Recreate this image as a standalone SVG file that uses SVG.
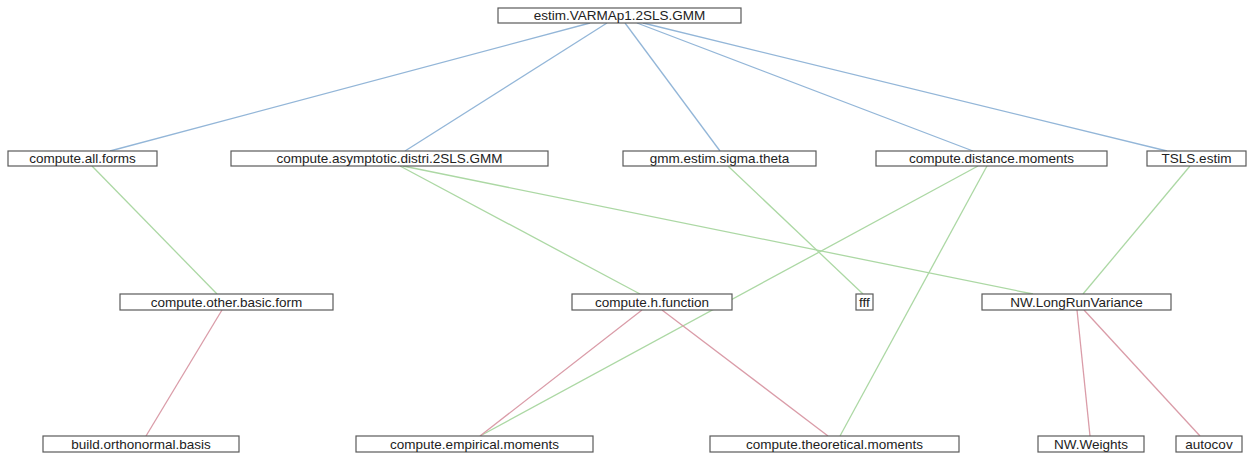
<svg xmlns="http://www.w3.org/2000/svg" width="1247" height="455" viewBox="0 0 1247 455">
<style>
.n rect{fill:#fff;stroke:#5a5a5a;stroke-width:1.2}
.n text{font-family:"Liberation Sans",Arial,sans-serif;font-size:13.5px;fill:#222;text-anchor:middle}
.b{stroke:#93b6d8;stroke-width:1.3;fill:none}
.g{stroke:#acd8a4;stroke-width:1.3;fill:none}
.r{stroke:#da9ca8;stroke-width:1.3;fill:none}
</style>
<rect width="1247" height="455" fill="#fff"/>
<g id="connectors">
<line class="b" x1="590" y1="23" x2="110" y2="151"/>
<line class="b" x1="607" y1="23" x2="405" y2="151"/>
<line class="b" x1="625" y1="23" x2="720" y2="151"/>
<line class="b" x1="637" y1="23" x2="973" y2="151"/>
<line class="b" x1="643" y1="23" x2="1167" y2="151"/>
<line class="g" x1="92" y1="166" x2="217" y2="294"/>
<line class="g" x1="400" y1="166" x2="640" y2="294"/>
<line class="g" x1="403" y1="166" x2="1033" y2="294"/>
<line class="g" x1="728" y1="166" x2="863" y2="294"/>
<line class="g" x1="978" y1="166" x2="480" y2="436"/>
<line class="g" x1="987" y1="166" x2="840" y2="436"/>
<line class="g" x1="1190" y1="166" x2="1083" y2="294"/>
<line class="r" x1="222" y1="310" x2="146" y2="436"/>
<line class="r" x1="642" y1="310" x2="480" y2="436"/>
<line class="r" x1="662" y1="310" x2="828" y2="436"/>
<line class="r" x1="1077" y1="310" x2="1090" y2="436"/>
<line class="r" x1="1084" y1="310" x2="1200" y2="436"/>
</g>
<g id="n1" class="n"><rect x="498" y="8" width="243" height="15"/><text x="619.5" y="20">estim.VARMAp1.2SLS.GMM</text></g>
<g id="n2" class="n"><rect x="8" y="151" width="149" height="15"/><text x="82.5" y="163">compute.all.forms</text></g>
<g id="n3" class="n"><rect x="231" y="151" width="317" height="15"/><text x="389.5" y="163">compute.asymptotic.distri.2SLS.GMM</text></g>
<g id="n4" class="n"><rect x="623" y="151" width="193" height="15"/><text x="719.5" y="163">gmm.estim.sigma.theta</text></g>
<g id="n5" class="n"><rect x="876" y="151" width="231" height="15"/><text x="991.5" y="163">compute.distance.moments</text></g>
<g id="n6" class="n"><rect x="1147" y="151" width="99" height="15"/><text x="1196.5" y="163">TSLS.estim</text></g>
<g id="n7" class="n"><rect x="120" y="294" width="213" height="16"/><text x="226.5" y="306.5">compute.other.basic.form</text></g>
<g id="n8" class="n"><rect x="572" y="294" width="160" height="16"/><text x="652" y="306.5">compute.h.function</text></g>
<g id="n9" class="n"><rect x="856" y="294" width="17" height="16"/><text x="864.5" y="306.5">fff</text></g>
<g id="n10" class="n"><rect x="982" y="294" width="189" height="16"/><text x="1076.5" y="306.5">NW.LongRunVariance</text></g>
<g id="n11" class="n"><rect x="43" y="436" width="196" height="16"/><text x="141" y="448.5">build.orthonormal.basis</text></g>
<g id="n12" class="n"><rect x="356" y="436" width="237" height="16"/><text x="474.5" y="448.5">compute.empirical.moments</text></g>
<g id="n13" class="n"><rect x="710" y="436" width="249" height="16"/><text x="834.5" y="448.5">compute.theoretical.moments</text></g>
<g id="n14" class="n"><rect x="1038" y="436" width="106" height="16"/><text x="1091" y="448.5">NW.Weights</text></g>
<g id="n15" class="n"><rect x="1176" y="436" width="66" height="16"/><text x="1209" y="448.5">autocov</text></g>
</svg>
